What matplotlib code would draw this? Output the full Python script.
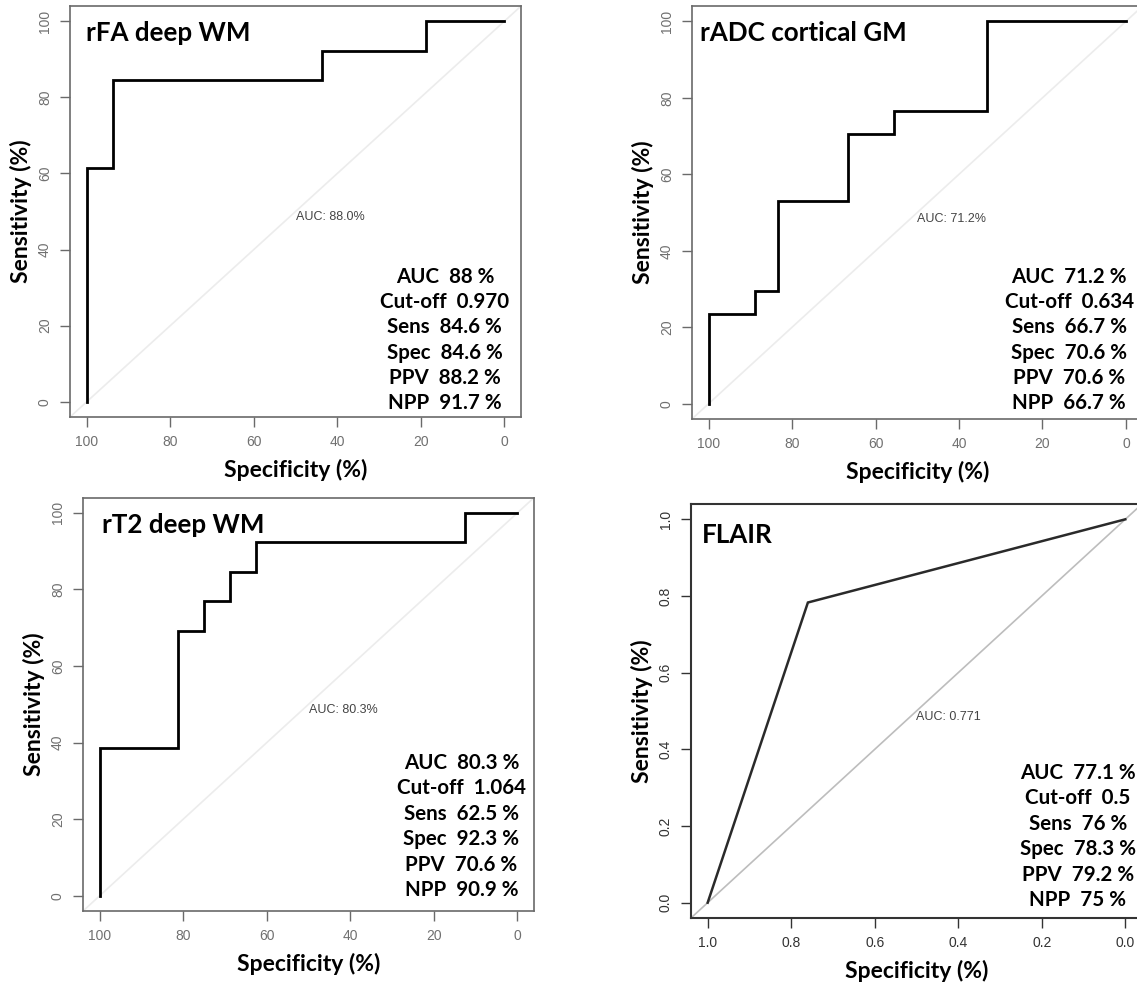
import matplotlib
matplotlib.use("Agg")
import matplotlib.pyplot as plt

# ROC step curves: specificity (x) and sensitivity (y), in %
fa_spec = [100, 100, 93.75, 93.75, 43.75, 43.75, 18.75, 18.75, 0]
fa_sens = [0, 61.5, 61.5, 84.6, 84.6, 92.3, 92.3, 100, 100]

adc_spec = [100, 100, 88.9, 88.9, 83.3, 83.3, 66.7, 66.7, 55.6, 55.6, 33.3, 33.3, 0]
adc_sens = [0, 23.5, 23.5, 29.4, 29.4, 52.9, 52.9, 70.6, 70.6, 76.5, 76.5, 100, 100]

t2_spec = [100, 100, 81.25, 81.25, 75, 75, 68.75, 68.75, 62.5, 62.5, 12.5, 12.5, 0]
t2_sens = [0, 38.5, 38.5, 69.2, 69.2, 76.9, 76.9, 84.6, 84.6, 92.3, 92.3, 100, 100]

flair_spec = [1.0, 0.76, 0.0]
flair_sens = [0.0, 0.783, 1.0]

titles = ["rFA deep WM", "rADC cortical GM", "rT2 deep WM", "FLAIR"]
auc_labels = ["AUC: 88.0%", "AUC: 71.2%", "AUC: 80.3%", "AUC: 0.771"]

stats = [
    ["AUC  88 %", "Cut-off  0.970", "Sens  84.6 %", "Spec  84.6 %", "PPV  88.2 %", "NPP  91.7 %"],
    ["AUC  71.2 %", "Cut-off  0.634", "Sens  66.7 %", "Spec  70.6 %", "PPV  70.6 %", "NPP  66.7 %"],
    ["AUC  80.3 %", "Cut-off  1.064", "Sens  62.5 %", "Spec  92.3 %", "PPV  70.6 %", "NPP  90.9 %"],
    ["AUC  77.1 %", "Cut-off  0.5", "Sens  76 %", "Spec  78.3 %", "PPV  79.2 %", "NPP  75 %"],
]

curves = [(fa_spec, fa_sens), (adc_spec, adc_sens), (t2_spec, t2_sens), (flair_spec, flair_sens)]

# layout (figure fractions) and text anchors (axes fractions)
axes_pos = [
    [0.0616, 0.5758, 0.3967, 0.4181],
    [0.6086, 0.5738, 0.3963, 0.4200],
    [0.0730, 0.0732, 0.3967, 0.4206],
    [0.6077, 0.0661, 0.3967, 0.4212],
]
title_xy = [(0.035, 0.934), (0.018, 0.936), (0.042, 0.933), (0.024, 0.925)]
stats_x = [0.831, 0.837, 0.839, 0.858]
stats_top = [0.341, 0.345, 0.358, 0.351]
line_step = 0.0615

BOLD = ["Lato", "DejaVu Sans"]
TICKF = ["Liberation Sans", "DejaVu Sans"]

fig = plt.figure(figsize=(11.37, 9.83), dpi=100)

for i in range(4):
    ax = fig.add_axes(axes_pos[i])
    flair = (i == 3)
    top = 1.0 if flair else 100
    pad = 0.04 * top
    frame_col = "#333333" if flair else "#6a6a6a"
    tick_col = "#333333" if flair else "#707070"
    diag_col = "#bdbdbd" if flair else "#ececec"

    ax.axline((top, 0), (0, top), color=diag_col, lw=1.2, zorder=1)
    sx, sy = curves[i]
    ax.plot(sx, sy, color="#2a2a2a" if flair else "black",
            lw=1.8 if flair else 2.0, zorder=3, solid_joinstyle="miter")

    ax.set_xlim(top + pad, -pad)
    ax.set_ylim(-pad, top + pad)
    ticks = [0, 0.2 * top, 0.4 * top, 0.6 * top, 0.8 * top, top]
    ax.set_xticks(ticks)
    ax.set_yticks(ticks)
    if flair:
        lbls = ["%.1f" % t for t in ticks]
    else:
        lbls = ["%d" % t for t in ticks]
    ax.set_xticklabels(lbls, fontfamily=TICKF, fontsize=10, color=tick_col)
    ax.set_yticklabels(lbls, fontfamily=TICKF, fontsize=10, color=tick_col,
                       rotation=90, va="center")
    ax.tick_params(direction="out", length=7, width=1, color=frame_col, pad=6)
    for sp in ax.spines.values():
        sp.set_color(frame_col)
        sp.set_linewidth(1.5 if flair else 1.2)

    ax.set_xlabel("Specificity (%)", fontfamily=BOLD, fontweight="bold",
                  fontsize=16.5, labelpad=7)
    ax.set_ylabel("Sensitivity (%)", fontfamily=BOLD, fontweight="bold",
                  fontsize=16.5, labelpad=4)

    ax.text(title_xy[i][0], title_xy[i][1], titles[i], transform=ax.transAxes,
            fontfamily=BOLD, fontweight="bold", fontsize=18.7, ha="left", va="center")

    ax.text(0.5 * top, 0.5 * top, auc_labels[i], fontfamily=TICKF, fontsize=9,
            color="#444444", ha="left", va="top")

    for k, line in enumerate(stats[i]):
        ax.text(stats_x[i], stats_top[i] - k * line_step, line, transform=ax.transAxes,
                fontfamily=BOLD, fontweight="bold", fontsize=14.8,
                ha="center", va="center", clip_on=False)

fig.savefig("out.png", dpi=100)
